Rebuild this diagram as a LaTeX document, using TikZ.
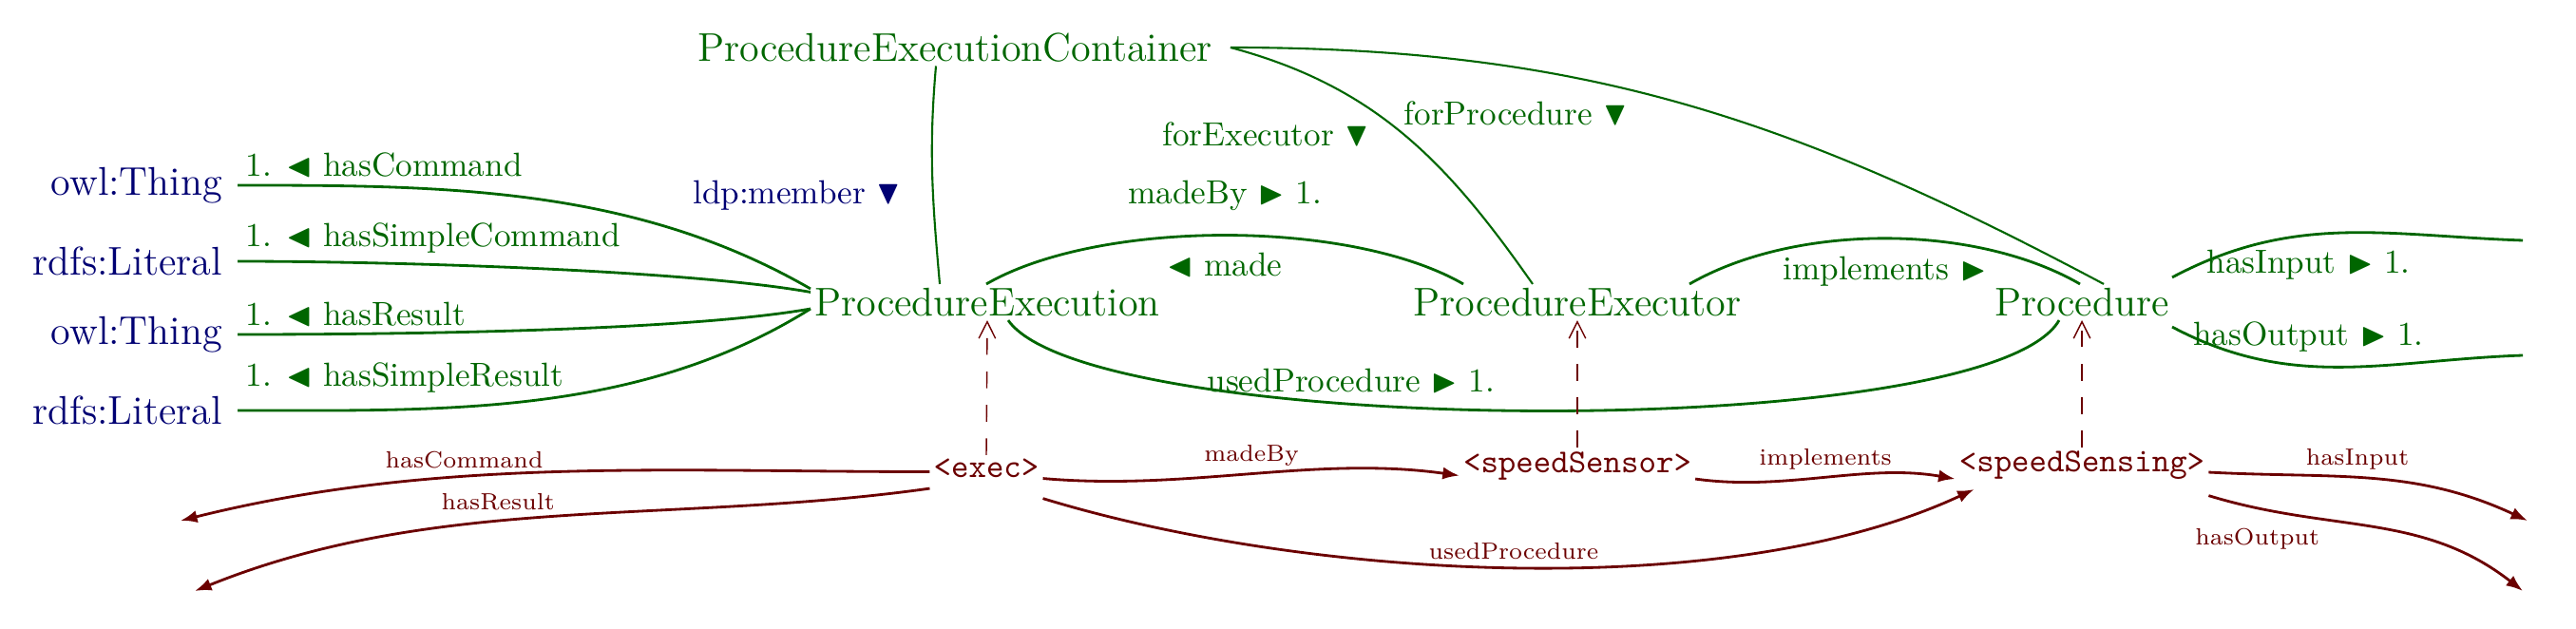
\documentclass[tikz,border=0pt]{standalone}
\usepackage{amssymb}
\usetikzlibrary{arrows.meta}
\definecolor{dgreen}{rgb}{0,0.4,0}
\definecolor{dblue}{rgb}{0,0,0.45}
\definecolor{dred}{rgb}{0.42,0,0}
\begin{document}
\begin{tikzpicture}[
  cls/.style={color=dgreen, font=\large, inner sep=1pt},
  lit/.style={color=dblue, font=\large, inner sep=1pt, anchor=east},
  inst/.style={color=dred, font=\ttfamily, inner sep=1pt},
  glbl/.style={color=dgreen, inner sep=2pt},
  rlbl/.style={color=dred, font=\scriptsize, inner sep=2pt},
  gedge/.style={color=dgreen, thick},
  cedge/.style={color=dgreen, semithick},
  redge/.style={color=dred, thick, -{Latex[length=5pt]}},
  tedge/.style={color=dred, dashed, dash pattern=on 5pt off 5pt, -{Straight Barb[length=5pt,width=5pt]}}]
  \useasboundingbox (0,0) rectangle (27.11,6.61);
  \node[cls] (PEC) at (10.05,6.11) {ProcedureExecutionContainer};
  \node[cls] (PE) at (10.39,3.43) {ProcedureExecution};
  \node[cls] (PX) at (16.60,3.43) {ProcedureExecutor};
  \node[cls] (P) at (21.91,3.43) {Procedure};
  \node[lit] (T1) at (2.38,4.66) {owl:Thing};
  \node[lit] (L1) at (2.38,3.86) {rdfs:Literal};
  \node[lit] (T2) at (2.38,3.09) {owl:Thing};
  \node[lit] (L2) at (2.38,2.29) {rdfs:Literal};
  \node[inst] (exec) at (10.38,1.68) {<exec>};
  \node[inst] (sensor) at (16.60,1.71) {<speedSensor>};
  \node[inst] (sensing) at (21.91,1.71) {<speedSensing>};
  \coordinate (c1) at (1.90,1.13);
  \coordinate (c2) at (2.05,0.39);
  \coordinate (c3) at (26.60,1.13);
  \coordinate (c4) at (26.55,0.39);
  \coordinate (g1) at (26.55,4.08);
  \coordinate (g2) at (26.55,2.87);

  \draw[gedge] (T1.east) ++(0.12,0) to[out=0,in=150,looseness=0.9] node[glbl, pos=0, anchor=south west] {1. $\blacktriangleleft$ hasCommand} ([yshift=4pt]PE.west);
  \draw[gedge] (L1.east) ++(0.12,0) to[out=0,in=170,looseness=0.6] node[glbl, pos=0, anchor=south west] {1. $\blacktriangleleft$ hasSimpleCommand} ([yshift=3pt]PE.west);
  \draw[gedge] (T2.east) ++(0.12,0) to[out=0,in=190,looseness=0.6] node[glbl, pos=0, anchor=south west] {1. $\blacktriangleleft$ hasResult} ([yshift=-2pt]PE.west);
  \draw[gedge] (L2.east) ++(0.12,0) to[out=0,in=212,looseness=0.9] node[glbl, pos=0, anchor=south west, yshift=3pt] {1. $\blacktriangleleft$ hasSimpleResult} ([yshift=-2pt]PE.west);
  \draw[gedge] ([xshift=-0.01cm]PE.north) to[out=30,in=150,looseness=0.7] node[glbl, above=5pt] {madeBy $\blacktriangleright$ 1.} node[glbl, below=3pt] {$\blacktriangleleft$ made} ([xshift=-1.2cm]PX.north);
  \draw[gedge] ([xshift=1.18cm]PX.north) to[out=30,in=150,looseness=0.8] node[glbl, below=3pt] {implements $\blacktriangleright$} ([xshift=-0.02cm]P.north);
  \draw[gedge] ([xshift=0.22cm]PE.south) to[out=-55,in=-120,looseness=0.35] node[glbl, pos=0.37, above=1pt] {usedProcedure $\blacktriangleright$ 1.} ([xshift=-0.24cm]P.south);
  \draw[gedge] ([xshift=0.95cm,yshift=2pt]P.north) to[out=28,in=178,looseness=1] node[glbl, pos=0.4, below=2pt] {hasInput $\blacktriangleright$ 1.} (g1);
  \draw[gedge] ([xshift=0.95cm,yshift=-2pt]P.south) to[out=-28,in=182,looseness=1] node[glbl, pos=0.4, above=2pt] {hasOutput $\blacktriangleright$ 1.} (g2);
  \draw[cedge] ([xshift=-0.2cm]PEC.south) to[out=-95,in=95] node[pos=0.6, left=6pt, color=dblue] {ldp:member $\blacktriangledown$} ([xshift=-0.5cm]PE.north);
  \draw[cedge] ([xshift=0.15cm]PEC.east) to[out=-15,in=125] node[glbl, pos=0.5, left=8pt] {forExecutor $\blacktriangledown$} ([xshift=-0.47cm]PX.north);
  \draw[cedge] ([xshift=0.15cm]PEC.east) to[out=0,in=152] node[glbl, pos=0.3, below=8pt] {forProcedure $\blacktriangledown$} ([xshift=0.23cm]P.north);

  \draw[redge] ([yshift=-1pt]exec.west) to[out=180,in=14,looseness=0.9] node[rlbl, pos=0.62, above] {hasCommand} (c1);
  \draw[redge] ([yshift=-6pt]exec.west) to[out=188,in=22,looseness=0.9] node[rlbl, pos=0.58, above=1pt] {hasResult} (c2);
  \draw[redge] ([yshift=-3pt]exec.east) to[out=-5,in=172,looseness=0.9] node[rlbl, above] {madeBy} ([yshift=-3pt]sensor.west);
  \draw[redge] ([yshift=-4pt]sensor.east) to[out=-8,in=170,looseness=0.9] node[rlbl, above] {implements} ([yshift=-4pt]sensing.west);
  \draw[redge] ([yshift=-9pt]exec.east) to[out=-17,in=205,looseness=0.75] node[rlbl, above] {usedProcedure} ([xshift=0.2cm,yshift=-0.25cm]sensing.west);
  \draw[redge] ([yshift=-2pt]sensing.east) to[out=-3,in=155,looseness=1] node[rlbl, pos=0.45, above] {hasInput} (c3);
  \draw[redge] ([yshift=-9pt]sensing.east) to[out=-17,in=142,looseness=1] node[rlbl, pos=0.35, below left] {hasOutput} (c4);

  \draw[tedge] (exec.north) -- (PE.south);
  \draw[tedge] (sensor.north) -- (PX.south);
  \draw[tedge] (sensing.north) -- (P.south);
\end{tikzpicture}
\end{document}
